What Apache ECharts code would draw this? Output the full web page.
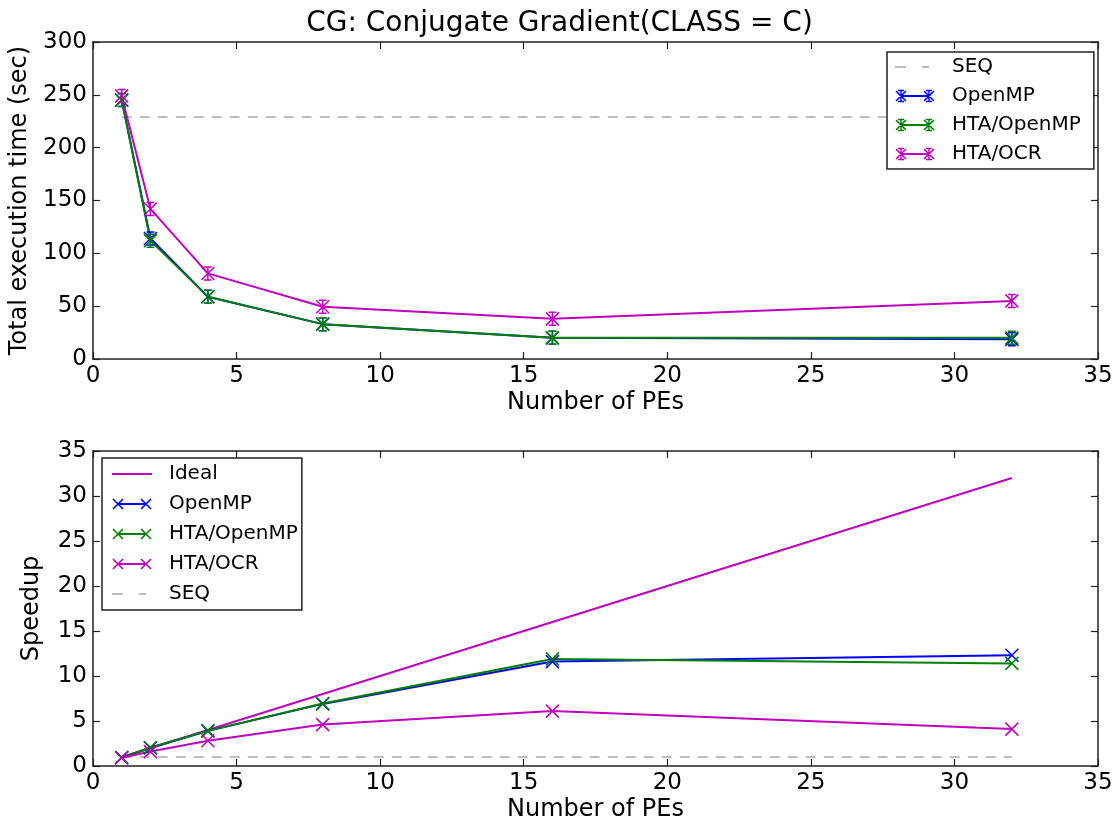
<!DOCTYPE html>
<html>
<head>
<meta charset="utf-8">
<script src="https://cdn.jsdelivr.net/npm/echarts@6/dist/echarts.min.js"></script>
<style>
  html, body { margin: 0; padding: 0; background: #fff; }
  #chart { width: 1119px; height: 824px; }
</style>
</head>
<body>
<div id="chart"></div>
<script>
// number of processing elements (x values)
const peCounts = [1, 2, 4, 8, 16, 32];

// top: total execution time (sec)
const seqTime = 229;
const timeOpenMP = [245, 114, 59, 33, 20, 18.6];
const timeHtaOpenMP = [245, 112, 59, 33, 20, 20];
const timeHtaOcr = [249, 142, 81, 49.5, 38, 55];

// bottom: speedup
const speedupIdeal = [1, 2, 4, 8, 16, 32];
const speedupOpenMP = [0.93, 2.0, 3.9, 6.9, 11.6, 12.3];
const speedupHtaOpenMP = [0.93, 2.05, 3.9, 6.95, 11.9, 11.4];
const speedupHtaOcr = [0.92, 1.6, 2.8, 4.6, 6.1, 4.1];
const speedupSeq = 1;

const BLUE = '#0000ff';
const GREEN = '#008000';
const MAGENTA = '#bf00bf';
const GREY = '#bdbdbd';
const FONT = 'DejaVu Sans';

const xMark = 'path://M0,0L10,10M10,0L0,10';
const xErrMark = 'path://M0,0L10,10M10,0L0,10M5,0L5,10M2,0L8,0M2,10L8,10';

// legend icons: thin filled strips so they don't depend on stroke settings
function seg(x1, y1, x2, y2, t) {
  const dx = x2 - x1, dy = y2 - y1;
  const len = Math.sqrt(dx * dx + dy * dy);
  const nx = -dy / len * t, ny = dx / len * t;
  return 'M' + (x1 + nx) + ',' + (y1 + ny) + 'L' + (x2 + nx) + ',' + (y2 + ny) +
    'L' + (x2 - nx) + ',' + (y2 - ny) + 'L' + (x1 - nx) + ',' + (y1 - ny) + 'Z';
}
const FRAME = 'M0,0M40,14'; // fixes icon bounds to 40x14
function xAt(cx, withErr) {
  let p = seg(cx - 5, 2, cx + 5, 12, 0.8) + seg(cx + 5, 2, cx - 5, 12, 0.8);
  if (withErr) {
    p += seg(cx, 1, cx, 13, 0.7) + seg(cx - 3, 1.5, cx + 3, 1.5, 0.7) + seg(cx - 3, 12.5, cx + 3, 12.5, 0.7);
  }
  return p;
}
const iconLine = 'path://' + FRAME + seg(0, 7, 40, 7, 1);
const iconDash = 'path://' + FRAME + seg(0, 7, 11, 7, 1) + seg(27, 7, 34, 7, 1);
const iconMark = 'path://' + FRAME + seg(6, 7, 34, 7, 1) + xAt(6, false) + xAt(34, false);
const iconErr = 'path://' + FRAME + seg(6, 7, 34, 7, 1) + xAt(6, true) + xAt(34, true);

function pairs(vals) {
  return peCounts.map((x, i) => [x, vals[i]]);
}

function markSeries(name, color, vals, axis, symbol) {
  return {
    name: name,
    type: 'line',
    xAxisIndex: axis,
    yAxisIndex: axis,
    data: pairs(vals),
    symbol: symbol,
    symbolSize: 13,
    showSymbol: true,
    lineStyle: { color: color, width: 2 },
    itemStyle: { color: color, borderColor: color, borderWidth: 1.5 },
    z: 3
  };
}

function seqSeries(val, axis) {
  return {
    name: 'SEQ',
    type: 'line',
    xAxisIndex: axis,
    yAxisIndex: axis,
    data: [[peCounts[0], val], [peCounts[peCounts.length - 1], val]],
    symbol: 'none',
    lineStyle: { color: GREY, width: 2, type: [10, 8] },
    itemStyle: { color: GREY },
    z: 2
  };
}

const axisLine = { show: true, onZero: false, lineStyle: { color: '#222', width: 1.5 } };
const tick = { show: true, inside: true, length: 7, lineStyle: { color: '#222', width: 1.2 } };
const label = { color: '#000', fontFamily: FONT, fontSize: 23 };
const nameStyle = { color: '#000', fontFamily: FONT, fontSize: 24 };

function xAxes(grid) {
  return [
    {
      type: 'value', gridIndex: grid, min: 0, max: 35, interval: 5,
      name: 'Number of PEs', nameLocation: 'middle', nameGap: 32, nameTextStyle: nameStyle,
      axisLine: axisLine, axisTick: tick, axisLabel: Object.assign({ margin: 6 }, label),
      splitLine: { show: false }
    },
    {
      type: 'value', gridIndex: grid, position: 'top', min: 0, max: 35, interval: 5,
      axisLine: axisLine, axisTick: tick, axisLabel: { show: false }, splitLine: { show: false }
    }
  ];
}

function yAxes(grid, max, interval, name, gap) {
  return [
    {
      type: 'value', gridIndex: grid, min: 0, max: max, interval: interval,
      name: name, nameLocation: 'middle', nameGap: gap, nameTextStyle: nameStyle,
      axisLine: axisLine, axisTick: tick, axisLabel: Object.assign({ margin: 6 }, label),
      splitLine: { show: false }
    },
    {
      type: 'value', gridIndex: grid, position: 'right', min: 0, max: max, interval: interval,
      axisLine: axisLine, axisTick: tick, axisLabel: { show: false }, splitLine: { show: false }
    }
  ];
}

const chart = echarts.init(document.getElementById('chart'));

const xs = xAxes(0).concat(xAxes(1));
const ys = yAxes(0, 300, 50, 'Total execution time (sec)', 57).concat(yAxes(1, 35, 5, 'Speedup', 49));

// the secondary (frame) axes use indices 1 and 3; data goes on 0 and 2
const topSeries = [
  seqSeries(seqTime, 0),
  markSeries('OpenMP', BLUE, timeOpenMP, 0, xErrMark),
  markSeries('HTA/OpenMP', GREEN, timeHtaOpenMP, 0, xErrMark),
  markSeries('HTA/OCR', MAGENTA, timeHtaOcr, 0, xErrMark)
];

const bottomSeries = [
  {
    name: 'Ideal', type: 'line', xAxisIndex: 2, yAxisIndex: 2,
    data: pairs(speedupIdeal), symbol: 'none',
    lineStyle: { color: MAGENTA, width: 2 }, itemStyle: { color: MAGENTA }, z: 3
  },
  markSeries('OpenMP', BLUE, speedupOpenMP, 2, xMark),
  markSeries('HTA/OpenMP', GREEN, speedupHtaOpenMP, 2, xMark),
  markSeries('HTA/OCR', MAGENTA, speedupHtaOcr, 2, xMark),
  seqSeries(speedupSeq, 2)
];

function legendItem(name, icon, color) {
  return { name: name, icon: icon, itemStyle: { color: color, borderWidth: 0 } };
}

const legendBase = {
  orient: 'vertical',
  backgroundColor: '#fff',
  borderColor: '#222',
  borderWidth: 1.5,
  borderRadius: 0,
  itemWidth: 40,
  itemHeight: 14,
  itemGap: 9,
  textStyle: { color: '#000', fontFamily: FONT, fontSize: 20, padding: [0, 0, 0, 12] },
  selectedMode: false
};

chart.setOption({
  animation: false,
  backgroundColor: '#fff',
  title: {
    text: 'CG: Conjugate Gradient(CLASS = C)',
    left: 'center',
    top: 5,
    textStyle: { color: '#000', fontFamily: FONT, fontSize: 28, fontWeight: 'normal' }
  },
  grid: [
    { left: 93, top: 42, width: 1005, height: 317 },
    { left: 93, top: 451, width: 1005, height: 315 }
  ],
  xAxis: xs,
  yAxis: ys,
  legend: [
    Object.assign({}, legendBase, {
      left: 887, top: 52, padding: [5, 13, 5, 8],
      data: [
        legendItem('SEQ', iconDash, GREY),
        legendItem('OpenMP', iconErr, BLUE),
        legendItem('HTA/OpenMP', iconErr, GREEN),
        legendItem('HTA/OCR', iconErr, MAGENTA)
      ]
    }),
    Object.assign({}, legendBase, {
      left: 102, top: 458, itemGap: 10, padding: [6, 4, 6, 10],
      data: [
        legendItem('Ideal', iconLine, MAGENTA),
        legendItem('OpenMP', iconMark, BLUE),
        legendItem('HTA/OpenMP', iconMark, GREEN),
        legendItem('HTA/OCR', iconMark, MAGENTA),
        legendItem('SEQ', iconDash, GREY)
      ]
    })
  ],
  series: topSeries.concat(bottomSeries)
});
</script>
</body>
</html>
